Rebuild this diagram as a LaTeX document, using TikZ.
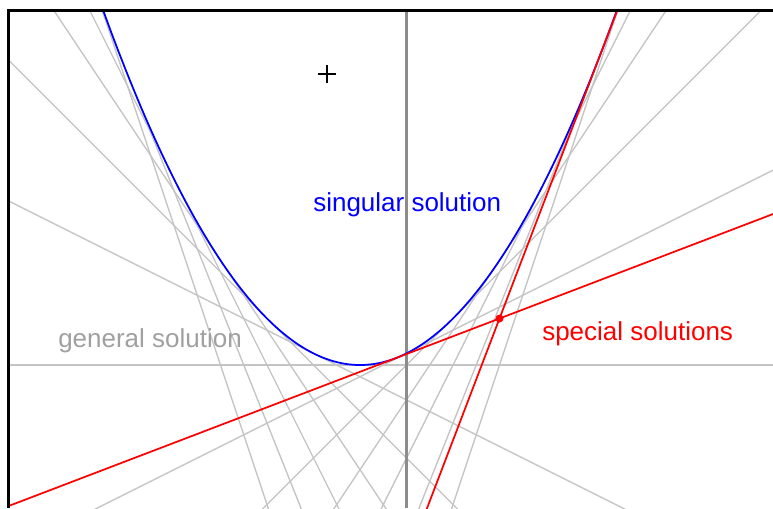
\documentclass[tikz,border=0pt]{standalone}
\usepackage{fontspec}
\setmainfont{Liberation Sans}
\definecolor{gengray}{HTML}{C4C4C4}
\definecolor{axisgray}{HTML}{8C8C8C}
\definecolor{txtgray}{HTML}{A0A0A0}
\begin{document}
\begin{tikzpicture}[x=0.75pt,y=-0.75pt,
  genline/.style={draw=gengray, line width=1.0pt},
  axisline/.style={draw=axisgray, line width=1.6pt},
  envelope/.style={draw=blue, line width=1.3pt},
  special/.style={draw=red, line width=1.3pt},
  lbl/.style={inner sep=0pt, anchor=base west, font=\fontsize{19.5pt}{23pt}\selectfont},
]
\useasboundingbox (0,0) rectangle (773,508);
\fill[white] (0,0) rectangle (773,508);
\begin{scope}
  \clip (9.5,11.5) rectangle (773,508);
  \begin{scope}[shift={(406.5,365)}, x=34.875pt, y=34.875pt]
    \foreach \p in {-3,-2.5,...,3}
      \draw[genline] (-10,{-10*\p+\p-\p*\p}) -- (10,{10*\p+\p-\p*\p});
  \end{scope}
  \draw[axisline] (406.5,0) -- (406.5,508);
  \begin{scope}[shift={(406.5,365)}, x=34.875pt, y=34.875pt]
    \draw[envelope] plot[domain=-7.2:5.2, samples=200, smooth] (\x,{(\x+1)*(\x+1)/4});
    \pgfmathsetmacro{\pa}{(3-sqrt(5))/2}
    \pgfmathsetmacro{\pb}{(3+sqrt(5))/2}
    \draw[special] (-10,{-10*\pa+\pa-\pa*\pa}) -- (10,{10*\pa+\pa-\pa*\pa});
    \draw[special] (-10,{-10*\pb+\pb-\pb*\pb}) -- (10,{10*\pb+\pb-\pb*\pb});
    \coordinate (pt) at (2,1);
  \end{scope}
  \fill[red] (pt) circle (3pt);
\end{scope}
% frame (top and left edges)
\draw[line width=2pt] (8.7,508) -- (8.7,10.5) -- (773,10.5);
% cursor cross
\coordinate (cur) at (327,74);
\draw[line width=1.4pt] ([xshift=-6.5]cur) -- ([xshift=6.5]cur);
\draw[line width=1.4pt] ([yshift=-6.5]cur) -- ([yshift=6.5]cur);
% labels
\node[lbl, text=blue] (sing) at (313,211) {singular solution};
\node[lbl, text=txtgray] (gen) at (58,347) {general solution};
\node[lbl, text=red] (spec) at (542,340) {special solutions};
\end{tikzpicture}
\end{document}
